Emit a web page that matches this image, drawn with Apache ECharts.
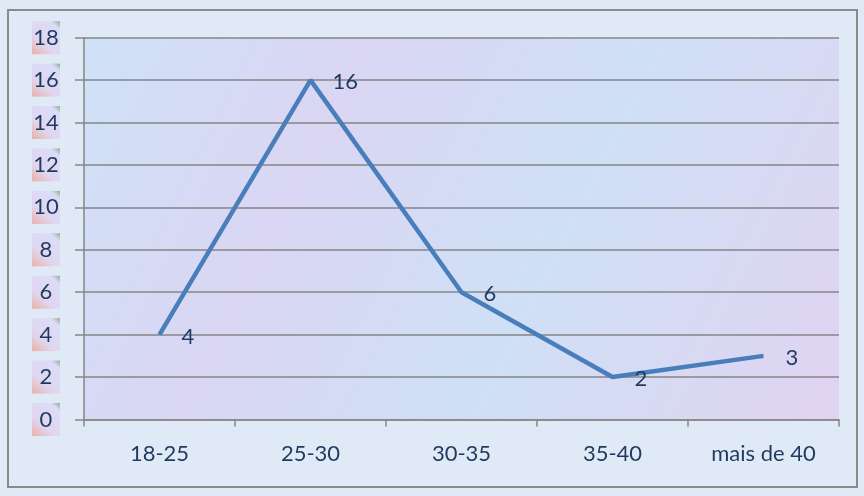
<!DOCTYPE html>
<html><head><meta charset="utf-8">
<script src="https://cdn.jsdelivr.net/npm/echarts@6/dist/echarts.min.js"></script>
<style>html,body{margin:0;padding:0;background:#e0eaf6;}#c{width:864px;height:496px;}</style>
</head><body><div id="c"></div>
<script>
var categories = ['18-25', '25-30', '30-35', '35-40', 'mais de 40'];
var values = [4, 16, 6, 2, 3];
var yTicks = [0, 2, 4, 6, 8, 10, 12, 14, 16, 18];

var chart = echarts.init(document.getElementById('c'));
var txt = '#1f3a5f';
chart.setOption({
  backgroundColor: '#e0eaf6',
  animation: false,
  graphic: [{
    type: 'rect', shape: { x: 8, y: 10, width: 849, height: 477 },
    style: { fill: 'none', stroke: '#8a8a8a', lineWidth: 2 }, z: 100
  }],
  grid: {
    left: 84, right: 25, top: 37.7, bottom: 76.5,
    show: true, borderWidth: 0,
    backgroundColor: new echarts.graphic.LinearGradient(0, 0, 1, 1, [
      { offset: 0, color: '#cfe2f7' },
      { offset: 0.3, color: '#dad6f3' },
      { offset: 0.6, color: '#cfe0f6' },
      { offset: 1, color: '#e0d3f1' }
    ])
  },
  xAxis: {
    type: 'category', data: categories, boundaryGap: true,
    axisLine: { show: true, lineStyle: { color: '#868686', width: 1.5 } },
    axisTick: { show: true, length: 7, alignWithLabel: false, lineStyle: { color: '#868686', width: 1.5 } },
    axisLabel: { color: txt, fontSize: 22, fontFamily: 'Lato', margin: 23 },
    splitLine: { show: false }
  },
  yAxis: {
    type: 'value', min: 0, max: 18, interval: 2,
    axisLine: { show: true, lineStyle: { color: '#868686', width: 1.5 } },
    axisTick: { show: true, length: 9, lineStyle: { color: '#868686', width: 1.5 } },
    axisLabel: {
      color: txt, fontSize: 22, fontFamily: 'Lato', margin: 38, align: 'center',
      width: 28, height: 33, lineHeight: 33, padding: 0,
      backgroundColor: new echarts.graphic.LinearGradient(0, 1, 1, 0, [
        { offset: 0, color: '#eab0a6' },
        { offset: 0.35, color: '#e0d6ef' },
        { offset: 0.85, color: '#dcdcf8' },
        { offset: 1, color: '#8fae88' }
      ]),
      formatter: function (v) { return yTicks.indexOf(v) >= 0 ? String(v) : ''; }
    },
    splitLine: { show: true, lineStyle: { color: '#868686', width: 1.5 } }
  },
  series: [{
    type: 'line', data: values,
    symbol: 'circle', symbolSize: 0, showSymbol: true,
    lineStyle: { color: '#4a7ebb', width: 4.5 },
    itemStyle: { color: '#4a7ebb' },
    label: {
      show: true, position: 'right', distance: 22, offset: [0, 2],
      color: txt, fontSize: 22, fontFamily: 'Lato'
    }
  }]
});
</script></body></html>
